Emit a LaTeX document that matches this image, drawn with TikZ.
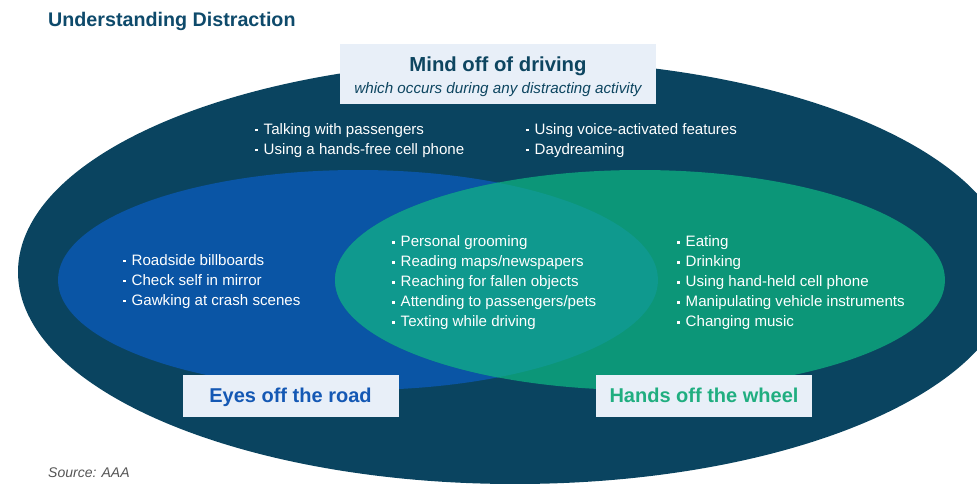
\documentclass[tikz,border=0pt]{standalone}
\usepackage{fontspec}
\setmainfont{Liberation Sans}
\definecolor{navy}{HTML}{0A4460}
\definecolor{eblue}{HTML}{0A55A5}
\definecolor{hgreen}{HTML}{0C9678}
\definecolor{overlap}{HTML}{0F998E}
\definecolor{boxfill}{HTML}{E8EFF8}
\definecolor{titlec}{HTML}{0E4A6B}
\definecolor{mindc}{HTML}{0D4560}
\definecolor{eyetext}{HTML}{1458B4}
\definecolor{handtext}{HTML}{20AE80}
\definecolor{srcgray}{HTML}{555555}
\newcommand\bul{\makebox[8.5pt][l]{\rule[3.2pt]{2.6pt}{2.6pt}}}
\tikzset{
  listtxt/.style={text=white, font=\fontsize{15.1}{20}\selectfont, align=left, anchor=north west, inner sep=0pt},
  labelbox/.style={fill=boxfill, minimum height=42pt, inner sep=0pt, text height=14.4pt, text depth=0pt, font=\fontsize{20}{24}\selectfont\bfseries},
}
\begin{document}
\begin{tikzpicture}[x=1pt,y=-1pt]
\useasboundingbox (0,0) rectangle (977,483);
\clip (0,0) rectangle (977,483);
% ellipses
\fill[navy] (515,272) ellipse [x radius=497, y radius=212];
\fill[eblue] (358,280) ellipse [x radius=300, y radius=110];
\fill[hgreen] (640,280) ellipse [x radius=305, y radius=110];
\begin{scope}
  \clip (358,280) ellipse [x radius=300, y radius=110];
  \fill[overlap] (640,280) ellipse [x radius=305, y radius=110];
\end{scope}
% title
\node[anchor=base west, inner sep=0pt, text=titlec, font=\fontsize{19.7}{22}\selectfont\bfseries] (title) at (48,26.7) {Understanding Distraction};
% mind box
\node[fill=boxfill, minimum width=316pt, minimum height=60pt, inner sep=0pt] (mindbox) at (498,74) {};
\node[anchor=base, inner sep=0pt, text=mindc, font=\fontsize{20.3}{24}\selectfont\bfseries] (mind) at (498,71.7) {Mind off of driving};
\node[anchor=base, inner sep=0pt, text=mindc, font=\fontsize{15.2}{18}\selectfont\itshape] (mindsub) at (498,93.3) {which occurs during any distracting activity};
% lists
\node[listtxt] (mindl) at (255,123.2) {\bul Talking with passengers\\\bul Using a hands-free cell phone};
\node[listtxt] (mindr) at (526,123.2) {\bul Using voice-activated features\\\bul Daydreaming};
\node[listtxt] (eyesl) at (123,254.2) {\bul Roadside billboards\\\bul Check self in mirror\\\bul Gawking at crash scenes};
\node[listtxt] (bothl) at (392,235.7) {\bul Personal grooming\\\bul Reading maps/newspapers\\\bul Reaching for fallen objects\\\bul Attending to passengers/pets\\\bul Texting while driving};
\node[listtxt] (handl) at (677,235.7) {\bul Eating\\\bul Drinking\\\bul Using hand-held cell phone\\\bul Manipulating vehicle instruments\\\bul Changing music};
% label boxes
\node[labelbox, minimum width=216pt, text=eyetext] (eyes) at (290.5,395.5) {Eyes off the road};
\node[labelbox, minimum width=216pt, text=handtext] (hands) at (704,395.5) {Hands off the wheel};
% source
\node[anchor=base west, inner sep=0pt, text=srcgray, font=\fontsize{14}{16}\selectfont\itshape] (src) at (48,477) {Source: AAA};
\end{tikzpicture}
\end{document}
